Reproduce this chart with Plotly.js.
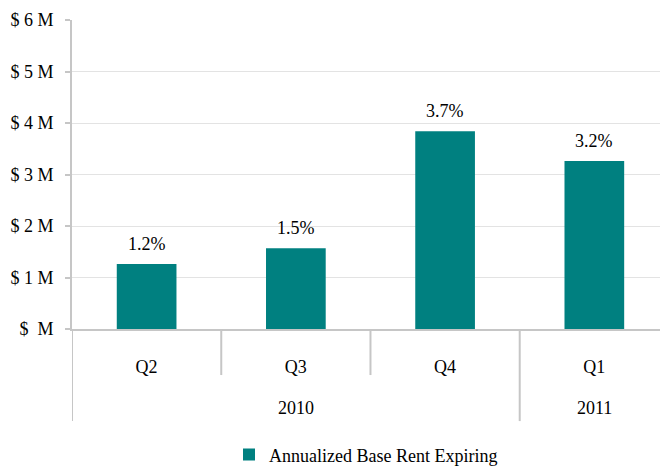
<!DOCTYPE html>
<html>
<head>
<meta charset="utf-8">
<script src="https://cdn.plot.ly/plotly-3.0.1.min.js"></script>
<style>html,body{margin:0;padding:0;background:#fff}#chart{width:660px;height:467px}</style>
</head>
<body>
<div id="chart"></div>
<script>
const years = ["2010", "2010", "2010", "2011"];
const quarters = ["Q2", "Q3", "Q4", "Q1"];
const rentMillions = [1.26, 1.57, 3.84, 3.26];
const pctLabels = ["1.2%", "1.5%", "3.7%", "3.2%"];
const yTickVals = [0, 1, 2, 3, 4, 5, 6];
const yTickText = ["$\u00a0\u00a0M", "$ 1 M", "$ 2 M", "$ 3 M", "$ 4 M", "$ 5 M", "$ 6 M"];

const FAM = "Liberation Serif, Times New Roman, serif";
const font = {family: FAM, size: 18, color: "#000"};
const lineColor = "#c6c6c6";

const trace = {
  type: "bar",
  x: quarters,
  y: rentMillions,
  marker: {color: "#008080"},
  width: 0.4,
  name: "Annualized Base Rent Expiring",
  showlegend: true,
  hoverinfo: "none"
};

// value labels above bars
const annotations = quarters.map((q, i) => ({
  x: i, y: rentMillions[i], xref: "x", yref: "y",
  text: pctLabels[i], showarrow: false,
  yanchor: "bottom", yshift: 8, font: font
}));

// year group labels and divider lines, derived from the year array
const shapes = [];
const groups = [];
years.forEach((yr, i) => {
  if (i === 0 || yr !== years[i - 1]) groups.push({year: yr, start: i, end: i});
  else groups[groups.length - 1].end = i;
});
groups.forEach(g => {
  annotations.push({
    x: (g.start + g.end) / 2, xref: "x", y: -0.2557, yref: "paper",
    text: g.year, showarrow: false, yanchor: "middle", font: font
  });
  shapes.push({type: "line", xref: "x", yref: "paper", x0: g.start - 0.5, x1: g.start - 0.5,
    y0: 0, y1: -0.298, line: {color: lineColor, width: 2}});
  for (let i = g.start; i < g.end; i++) {
    shapes.push({type: "line", xref: "x", yref: "paper", x0: i + 0.5, x1: i + 0.5,
      y0: 0, y1: -0.149, line: {color: lineColor, width: 2}});
  }
});

const layout = {
  width: 660, height: 467,
  margin: {l: 72, r: 0, t: 20, b: 138},
  paper_bgcolor: "#fff", plot_bgcolor: "#fff",
  font: font,
  showlegend: true,
  legend: {orientation: "h", x: 0.5, xref: "paper", xanchor: "center",
           y: 0.026, yref: "container", yanchor: "middle", font: font},
  annotations: annotations,
  shapes: shapes,
  xaxis: {
    type: "category",
    range: [-0.5, 3.44],
    showline: true, linecolor: lineColor, linewidth: 2,
    ticks: "", ticklabelstandoff: 20,
    tickfont: font,
    showgrid: false, automargin: false
  },
  yaxis: {
    range: [0, 6],
    tickvals: yTickVals, ticktext: yTickText,
    showline: true, linecolor: lineColor, linewidth: 2,
    ticks: "outside", ticklen: 5, tickcolor: lineColor, tickwidth: 2,
    ticklabelstandoff: 8,
    gridcolor: "#e3e3e3", gridwidth: 1,
    zeroline: false,
    tickfont: font, automargin: false
  }
};

Plotly.newPlot("chart", [trace], layout, {staticPlot: true, displayModeBar: false});
</script>
</body>
</html>
